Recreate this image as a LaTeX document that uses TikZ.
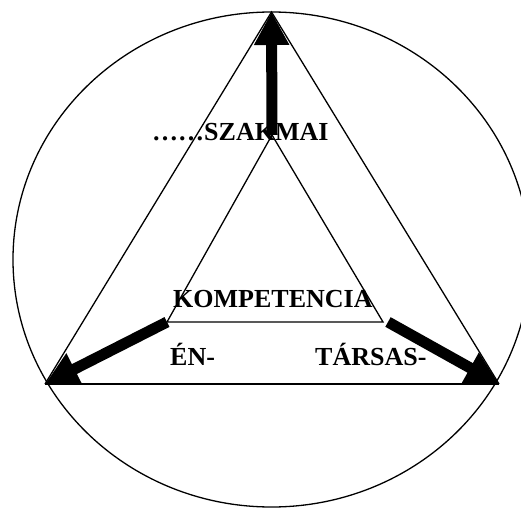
\documentclass[tikz,border=0pt]{standalone}
\usepackage{fontspec}
\setmainfont{Liberation Serif}
\usetikzlibrary{arrows.meta}
\tikzset{
  thinline/.style={line width=1.3bp, black},
  bigarrow/.style={line width=11bp, black, -{Triangle[length=33bp,width=33bp]}},
  lbl/.style={inner sep=0pt, anchor=base west, font=\fontsize{26bp}{31bp}\selectfont\bfseries}
}
\begin{document}
\begin{tikzpicture}[x=1bp,y=-1bp]
\useasboundingbox (0,0) rectangle (521,508);
\fill[white] (0,0) rectangle (521,508);
% outer ellipse, clipped at the picture's edge
\begin{scope}
  \clip (0,0) rectangle (521,508);
  \draw[thinline] (271.5,259.5) ellipse [x radius=258.5, y radius=247.5];
\end{scope}
% corners
\coordinate (oT) at (271.5,12);
\coordinate (oL) at (45,384);
\coordinate (oR) at (499,384);
\coordinate (iT) at (272,135);
\coordinate (iL) at (167,322);
\coordinate (iR) at (383,322);
% outer triangle
\draw[thinline] (oL) -- (oT) -- (oR);
\draw[line width=2bp] (oL) -- (oR);
% inner triangle
\draw[thinline] (iT) -- (iL) -- (iR) -- cycle;
% texts
\node[lbl] (szak) at (152,141) {……SZAKMAI};
\node[lbl] (komp) at (173,307) {KOMPETENCIA};
\node[lbl] (en) at (170,365) {ÉN-};
\node[lbl] (tars) at (315,365) {TÁRSAS-};
% arrows
\draw[bigarrow] (iT) -- (oT);
\draw[bigarrow] (iL) -- (oL);
\draw[bigarrow] (iR) ++(5,0) coordinate (iRa) -- (oR);
\end{tikzpicture}
\end{document}
